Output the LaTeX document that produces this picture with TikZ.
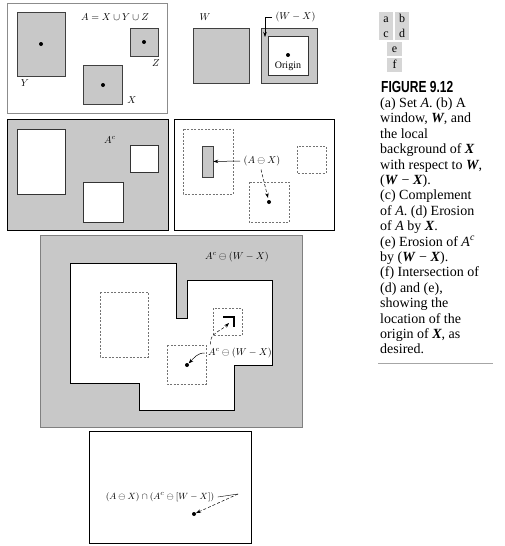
\documentclass[tikz,border=0pt]{standalone}
\usepackage{amsmath,amssymb}
\usepackage{fontspec}
\setmainfont{Liberation Serif}
\setsansfont{Liberation Sans}
\usetikzlibrary{arrows.meta}
\definecolor{setgray}{RGB}{200,200,200}
\definecolor{taggray}{RGB}{214,214,214}
\newcommand{\bvar}[1]{\textit{\textbf{#1}}}

\begin{document}
\begin{tikzpicture}[x=1pt, y=-1pt, every node/.style={font=\fontsize{10}{12}\selectfont},
	setbox/.style={fill=setgray, draw=black!75, line width=0.5pt},
	hole/.style={fill=white, draw=black!80, line width=0.5pt},
	dashbox/.style={draw=black!55, dash pattern=on 2pt off 1.5pt, line width=0.5pt},
	frame/.style={draw=black, line width=0.6pt},
	pt/.style={circle, fill=black, inner sep=0pt, minimum size=4pt},
	tag/.style={fill=taggray, minimum width=14.5pt, minimum height=14pt, inner sep=0pt, text height=8pt, text depth=0pt, font=\fontsize{12}{12}\selectfont},
	ptr/.style={-{Stealth[length=5pt, width=3.5pt]}, line width=0.5pt}]
	\useasboundingbox (0,0) rectangle (504,546);
	\draw[draw=black!45, line width=0.6pt] (7,3) rectangle (167,113);
	\draw[setbox] (17,12) rectangle (65,76);
	\draw[setbox] (130,28) rectangle (158,56);
	\draw[setbox] (83,65) rectangle (122,104);
	\node[pt] (ya) at (41,44) {};
	\node[pt] (za) at (144,42) {};
	\node[pt] (xa) at (103,85) {};
	\node (seta) at (115,17) {$A = X \cup Y \cup Z$};
	\node (ylbl) at (25,83) {$Y$};
	\node (zlbl) at (156,63) {$Z$};
	\node (xlbl) at (132,100) {$X$};
	\node (wlbl) at (205,17) {$W$};
	\draw[setbox] (193,28) rectangle (249,83);
	\draw[setbox] (261,28) rectangle (317,83);
	\draw[hole] (268,36) rectangle (308,75);
	\node[pt] (orig) at (288,55) {};
	\node (origlbl) at (288,66) {Origin};
	\node[anchor=west] (wxlbl) at (272,17) {$(W - X)$};
	\coordinate (wxtip) at (265,37);
	\draw[ptr] (wxlbl.west) -| (wxtip);
	\draw[setbox, draw=black] (7,119) rectangle (168,230);
	\draw[hole] (17,129) rectangle (65,194);
	\draw[hole] (130,145) rectangle (158,172);
	\draw[hole] (83,182) rectangle (123,222);
	\node (aclbl) at (110,140) {$A^c$};
	\draw[frame] (174,119) rectangle (334,230);
	\draw[dashbox] (183,129) rectangle (233,194);
	\draw[dashbox] (297,146) rectangle (326,173);
	\draw[dashbox] (249,182) rectangle (289,222);
	\node[setbox, minimum width=11pt, minimum height=31pt, inner sep=0pt] (ery) at (207.5,161.5) {};
	\node[pt] (dotd) at (269,202) {};
	\node (axlbl) at (262,161) {$(A \ominus X)$};
	\draw[ptr] (axlbl.west) -- (ery.east);
	\draw[ptr, densely dashed, shorten >=2pt] ([xshift=-1pt]axlbl.south) -- (dotd);
	\draw[setbox, draw=black!50] (40,235) rectangle (302,427);
	\draw[hole, draw=black] (70,263) -- (176,263) -- (176,318) -- (187,318) -- (187,280) -- (272,280) -- (272,365) -- (234,365) -- (234,410) -- (139,410) -- (139,383) -- (70,383) -- cycle;
	\draw[dashbox] (100,292) rectangle (148,357);
	\draw[dashbox] (213,308) rectangle (242,335);
	\draw[dashbox] (167,345) rectangle (206,384);
	\draw[line width=1.2pt] (223,317) -| (234,327);
	\coordinate (corner) at (229,323);
	\node[pt] (dote) at (187,365) {};
	\node (acwxtop) at (237,257) {$A^c \ominus (W - X)$};
	\node (acwx) at (240,353) {$A^c \ominus (W - X)$};
	\draw[ptr] (acwx.west) to[out=180, in=45] (dote);
	\draw[ptr, densely dashed] ([xshift=6pt]acwx.north west) to[out=100, in=225] (corner);
	\draw[frame] (89,431) rectangle (251,543);
	\node[font=\fontsize{9.5}{11}\selectfont] (inter) at (160,497) {$(A \ominus X) \cap (A^c \ominus [W - X])$};
	\coordinate (kink) at (238,494);
	\node[pt] (dotf) at (194,514) {};
	\draw (inter.east) -- (kink);
	\draw[ptr, densely dashed] (kink) -- (dotf);
	\node[tag] (ta) at (386,18.5) {a};
	\node[tag] (tb) at (402,18.5) {b};
	\node[tag] (tc) at (386,33) {c};
	\node[tag] (td) at (402,33) {d};
	\node[tag] (te) at (394.5,48.5) {e};
	\node[tag] (tf) at (394.5,64.5) {f};
	\node[anchor=base west, inner sep=0pt] (fig) at (381,92) {\sffamily\bfseries\fontsize{16}{16}\selectfont\scalebox{0.75}[1]{FIGURE 9.12}};
	\node[anchor=north west, align=left, inner sep=0pt, font=\fontsize{14}{15.4}\selectfont] (cap) at (380,97.5) {(a) Set \textit{A}. (b) A\\ window, \bvar{W}, and\\ the local\\ background of \bvar{X}\\ with respect to \bvar{W},\\ (\bvar{W} − \bvar{X}).\\ (c) Complement\\ of \textit{A}. (d) Erosion\\ of \textit{A} by \bvar{X}.\\ (e) Erosion of \textit{A}\textsuperscript{\textit{c}}\\ by (\bvar{W} − \bvar{X}).\\ (f) Intersection of\\ (d) and (e),\\ showing the\\ location of the\\ origin of \bvar{X}, as\\ desired.};
	\draw[black!35, line width=0.8pt] (378,363) -- (493,363);
\end{tikzpicture}
\end{document}
